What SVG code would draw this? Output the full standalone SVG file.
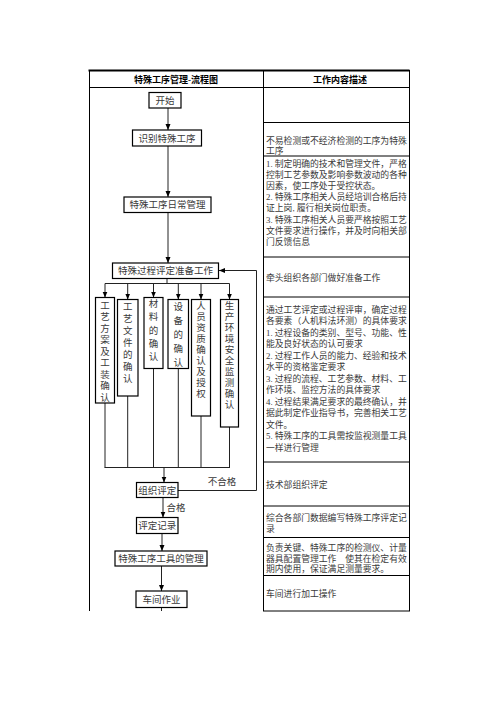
<svg xmlns="http://www.w3.org/2000/svg" width="496" height="702" viewBox="0 0 496 702">
<style>
  text { font-family: "Liberation Serif", "Noto Sans CJK SC", sans-serif; fill: #3a3a3a; }
  .hd { font-size: 9px; font-weight: bold; text-anchor: middle; fill: #000; }
  .rc { font-size: 8.8px; }
  .fc { font-size: 9.5px; text-anchor: middle; }
  .vt { font-size: 9.5px; text-anchor: middle; }
  .box { fill: #fff; stroke: #000; stroke-width: 1.2; }
  .grid { stroke: #000; stroke-width: 1; fill: none; }
  .conn path { stroke: #222; stroke-width: 1; fill: none; }
  .arr { marker-end: url(#ah); }
</style>
<defs>
  <marker id="ah" markerWidth="6" markerHeight="6" refX="6" refY="3" orient="auto" markerUnits="userSpaceOnUse">
    <path d="M0,0.5 L6,3 L0,5.5 z" fill="#000"/>
  </marker>
</defs>
<rect x="0" y="0" width="496" height="702" fill="#fff"/>

<g id="table">
  <line x1="88.5" y1="70.5" x2="409.5" y2="70.5" stroke="#000" stroke-width="2"/>
  <line class="grid" x1="89.5" y1="70" x2="89.5" y2="611"/>
  <line class="grid" x1="263.5" y1="70" x2="263.5" y2="611"/>
  <line class="grid" x1="409.5" y1="70" x2="409.5" y2="611"/>
  <line class="grid" x1="89" y1="87.5" x2="410" y2="87.5"/>
  <line class="grid" x1="263" y1="122.5" x2="410" y2="122.5"/>
  <line class="grid" x1="263" y1="156" x2="410" y2="156" stroke-width="1.3"/>
  <line class="grid" x1="263" y1="257" x2="410" y2="257" stroke-width="1.3"/>
  <line class="grid" x1="263" y1="297" x2="410" y2="297" stroke-width="1.3"/>
  <line class="grid" x1="263" y1="462" x2="410" y2="462" stroke-width="1.3"/>
  <line class="grid" x1="263" y1="506" x2="410" y2="506"/>
  <line class="grid" x1="263" y1="537.5" x2="410" y2="537.5" stroke-width="1.3"/>
  <line class="grid" x1="263" y1="575.5" x2="410" y2="575.5" stroke-width="1.3"/>
  <line class="grid" x1="263" y1="611" x2="410" y2="611"/>
  <text class="hd" x="176" y="83">特殊工序管理-流程图</text>
  <text class="hd" x="340" y="83">工作内容描述</text>
</g>

<g id="desc">
  <text class="rc" x="266" y="144">不易检测或不经济检测的工序为特殊</text>
  <text class="rc" x="266" y="154">工序</text>

  <text class="rc" x="266" y="167">1. 制定明确的技术和管理文件，严格</text>
  <text class="rc" x="266" y="178">控制工艺参数及影响参数波动的各种</text>
  <text class="rc" x="266" y="189">因素，使工序处于受控状态。</text>
  <text class="rc" x="266" y="200">2. 特殊工序相关人员经培训合格后持</text>
  <text class="rc" x="266" y="211">证上岗, 履行相关岗位职责。</text>
  <text class="rc" x="266" y="222.5">3. 特殊工序相关人员要严格按照工艺</text>
  <text class="rc" x="266" y="233.5">文件要求进行操作，并及时向相关部</text>
  <text class="rc" x="266" y="245">门反馈信息</text>

  <text class="rc" x="266" y="280.5">牵头组织各部门做好准备工作</text>

  <text class="rc" x="266" y="312.5">通过工艺评定或过程评审，确定过程</text>
  <text class="rc" x="266" y="324">各要素（人机料法环测）的具体要求</text>
  <text class="rc" x="266" y="335.5">1. 过程设备的类别、型号、功能、性</text>
  <text class="rc" x="266" y="347">能及良好状态的认可要求</text>
  <text class="rc" x="266" y="358.5">2. 过程工作人员的能力、经验和技术</text>
  <text class="rc" x="266" y="370">水平的资格鉴定要求</text>
  <text class="rc" x="266" y="381.5">3. 过程的流程、工艺参数、材料、工</text>
  <text class="rc" x="266" y="393">作环境、监控方法的具体要求</text>
  <text class="rc" x="266" y="404.5">4. 过程结果满足要求的最终确认，并</text>
  <text class="rc" x="266" y="416">据此制定作业指导书，完善相关工艺</text>
  <text class="rc" x="266" y="427.5">文件。</text>
  <text class="rc" x="266" y="439">5. 特殊工序的工具需按监视测量工具</text>
  <text class="rc" x="266" y="450.5">一样进行管理</text>

  <text class="rc" x="266" y="487.5">技术部组织评定</text>

  <text class="rc" x="266" y="520.5">综合各部门数据编写特殊工序评定记</text>
  <text class="rc" x="266" y="531.5">录</text>

  <text class="rc" x="266" y="550.5">负责关键、特殊工序的检测仪、计量</text>
  <text class="rc" x="266" y="561.5">器具配置管理工作　使其在检定有效</text>
  <text class="rc" x="266" y="572">期内使用，保证满足测量要求。</text>

  <text class="rc" x="266" y="596.5">车间进行加工操作</text>
</g>

<g class="conn" id="connectors">
  <path class="arr" d="M168,108 V130"/>
  <path class="arr" d="M168,146 V197"/>
  <path class="arr" d="M168,212 V263"/>
  <path d="M167,278 V283.5 M105,283.5 H229.5"/>
  <path class="arr" d="M105,283.5 V297.5"/>
  <path class="arr" d="M127.7,283.5 V299.5"/>
  <path class="arr" d="M153.5,283.5 V297.5"/>
  <path class="arr" d="M178.3,283.5 V299.5"/>
  <path class="arr" d="M201,283.5 V299.5"/>
  <path class="arr" d="M229.5,283.5 V299.5"/>
  <path d="M105,403 V467.5 M127.7,396 V467.5 M153.5,368.5 V467.5 M178.3,368.5 V467.5 M201,416 V467.5 M229.5,427 V467.5"/>
  <path d="M104.5,467.5 H230"/>
  <path class="arr" d="M164,467.5 V482.5"/>
  <path class="arr" d="M163,497.5 V517.5"/>
  <path class="arr" d="M162,533.5 V551"/>
  <path class="arr" d="M161.5,566 V591"/>
  <path d="M161.5,607.5 V611"/>
  <path class="arr" d="M178,490.5 H256.5 V270.5 H219"/>
  <text class="fc" x="222" y="485">不合格</text>
  <text class="fc" x="176" y="510.5">合格</text>
</g>

<g id="n-start"><rect class="box" x="149" y="92.5" width="32" height="15.5"/><text class="fc" x="165" y="103.8">开始</text></g>
<g id="n-identify"><rect class="box" x="132.5" y="130" width="69" height="16"/><text class="fc" x="167" y="141.5">识别特殊工序</text></g>
<g id="n-daily"><rect class="box" x="124" y="197" width="87" height="15.5"/><text class="fc" x="167.5" y="208.3">特殊工序日常管理</text></g>
<g id="n-prep"><rect class="box" x="112.5" y="263" width="106" height="15.5"/><text class="fc" x="165.5" y="274.3">特殊过程评定准备工作</text></g>

<g id="n-v1"><rect class="box" x="95.5" y="297.5" width="19" height="105.5"/>
  <text class="vt" x="105" y="308.5">工<tspan x="105" dy="11.5">艺</tspan><tspan x="105" dy="11.5">方</tspan><tspan x="105" dy="11.5">案</tspan><tspan x="105" dy="11.5">及</tspan><tspan x="105" dy="11.5">工</tspan><tspan x="105" dy="11.5">装</tspan><tspan x="105" dy="11.5">确</tspan><tspan x="105" dy="11.5">认</tspan></text></g>
<g id="n-v2"><rect class="box" x="117.5" y="299.5" width="20.5" height="96.5"/>
  <text class="vt" x="127.7" y="310">工<tspan x="127.7" dy="12">艺</tspan><tspan x="127.7" dy="12">文</tspan><tspan x="127.7" dy="12">件</tspan><tspan x="127.7" dy="12">的</tspan><tspan x="127.7" dy="12">确</tspan><tspan x="127.7" dy="12">认</tspan></text></g>
<g id="n-v3"><rect class="box" x="144" y="297.5" width="19" height="71"/>
  <text class="vt" x="153.5" y="307">材<tspan x="153.5" dy="13.3">料</tspan><tspan x="153.5" dy="13.3">的</tspan><tspan x="153.5" dy="13.3">确</tspan><tspan x="153.5" dy="13.3">认</tspan></text></g>
<g id="n-v4"><rect class="box" x="168" y="299.5" width="20.5" height="69"/>
  <text class="vt" x="178.3" y="310">设<tspan x="178.3" dy="14">备</tspan><tspan x="178.3" dy="14">的</tspan><tspan x="178.3" dy="14">确</tspan><tspan x="178.3" dy="14">认</tspan></text></g>
<g id="n-v5"><rect class="box" x="191.5" y="299.5" width="19" height="116.5"/>
  <text class="vt" x="201" y="308.5">人<tspan x="201" dy="11">员</tspan><tspan x="201" dy="11">资</tspan><tspan x="201" dy="11">质</tspan><tspan x="201" dy="11">确</tspan><tspan x="201" dy="11">认</tspan><tspan x="201" dy="11">及</tspan><tspan x="201" dy="11">授</tspan><tspan x="201" dy="11">权</tspan></text></g>
<g id="n-v6"><rect class="box" x="220.5" y="299.5" width="18" height="127.5"/>
  <text class="vt" x="229.5" y="308.5">生<tspan x="229.5" dy="11.1">产</tspan><tspan x="229.5" dy="11.1">环</tspan><tspan x="229.5" dy="11.1">境</tspan><tspan x="229.5" dy="11.1">安</tspan><tspan x="229.5" dy="11.1">全</tspan><tspan x="229.5" dy="11.1">监</tspan><tspan x="229.5" dy="11.1">测</tspan><tspan x="229.5" dy="11.1">确</tspan><tspan x="229.5" dy="11.1">认</tspan></text></g>

<g id="n-eval"><rect class="box" x="136.5" y="482.5" width="41.5" height="15"/><text class="fc" x="157.3" y="493.5">组织评定</text></g>
<g id="n-record"><rect class="box" x="136.5" y="517.5" width="41.5" height="16"/><text class="fc" x="157.3" y="529">评定记录</text></g>
<g id="n-tools"><rect class="box" x="115" y="551" width="92" height="15"/><text class="fc" x="161" y="562">特殊工序工具的管理</text></g>
<g id="n-shop"><rect class="box" x="136" y="591" width="51" height="16.5"/><text class="fc" x="161.5" y="602.5">车间作业</text></g>
</svg>
